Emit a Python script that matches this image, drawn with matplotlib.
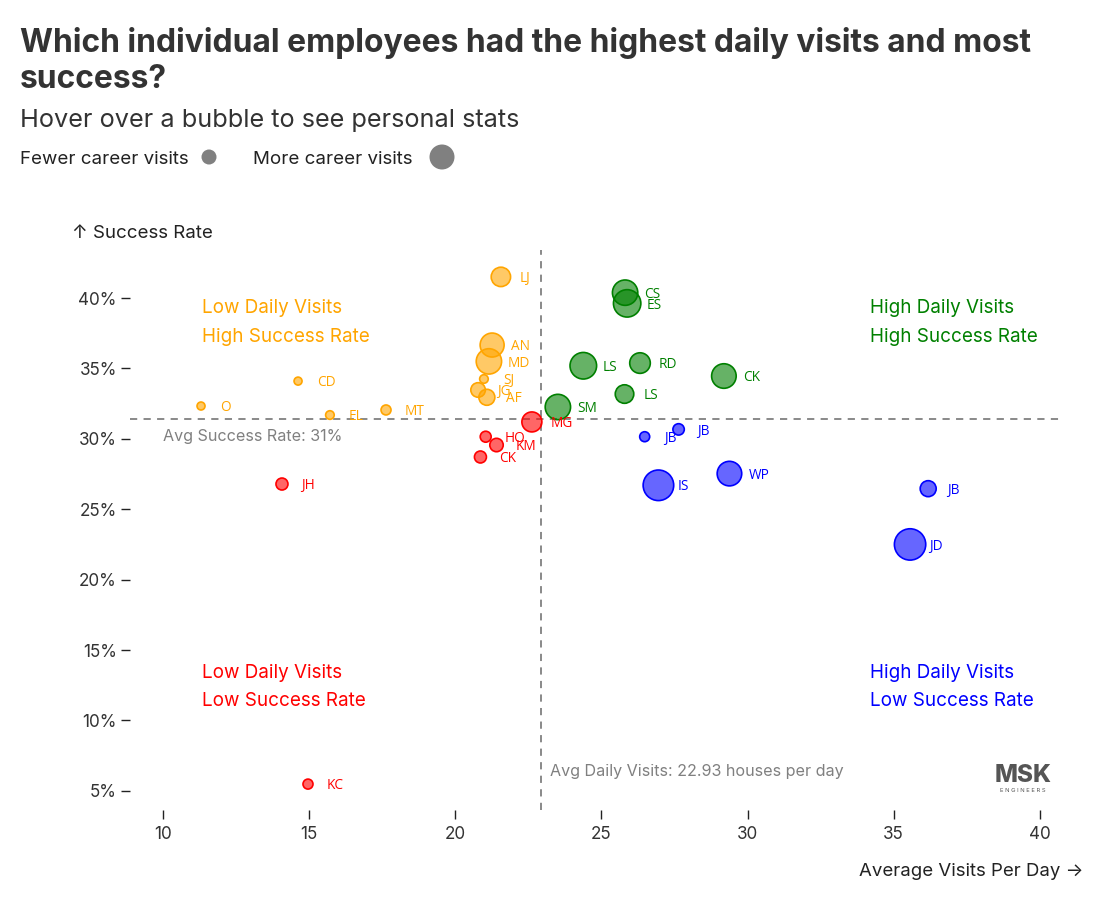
import matplotlib
matplotlib.use("Agg")
import matplotlib.pyplot as plt
from matplotlib.ticker import FuncFormatter

# ---------------- data ----------------
names = ["LJ", "AN", "MD", "SJ", "JG", "AF", "CD", "O", "EL", "MT",
         "MG", "HO", "KM", "CK", "JH", "KC",
         "CS", "ES", "LS", "RD", "CK", "LS", "SM",
         "JB", "JB", "IS", "WP", "JB", "JD"]
visits_per_day = [21.56, 21.26, 21.15, 20.98, 20.78, 21.08, 14.62, 11.30, 15.71, 17.63,
                  22.62, 21.04, 21.41, 20.86, 14.07, 14.96,
                  25.81, 25.88, 24.38, 26.32, 29.19, 25.79, 23.51,
                  26.48, 27.64, 26.95, 29.38, 36.18, 35.56]
success_rate = [41.5, 36.66, 35.5, 34.25, 33.47, 32.95, 34.1, 32.33, 31.69, 32.05,
                31.2, 30.15, 29.56, 28.71, 26.79, 5.48,
                40.38, 39.62, 35.19, 35.38, 34.46, 33.18, 32.26,
                30.15, 30.67, 26.70, 27.53, 26.46, 22.50]
career_visits = [940, 1440, 1610, 185, 530, 640, 160, 160, 185, 250,
                 1000, 300, 450, 360, 360, 250,
                 1610, 1880, 1770, 1060, 1510, 860, 1610,
                 250, 325, 2340, 1510, 640, 2460]

avg_visits = 22.93
avg_success = 31.4

x_ticks = [10, 15, 20, 25, 30, 35, 40]
y_ticks = [5, 10, 15, 20, 25, 30, 35, 40]

quadrant_colors = {"hh": "#008000", "lh": "#FFA500", "ll": "#FF0000", "hl": "#0000FF"}

# ---------------- figure ----------------
W, H, DPI = 1118, 898, 100
fig = plt.figure(figsize=(W / DPI, H / DPI), dpi=DPI)
plt.rcParams['font.family'] = ['Inter', 'DejaVu Sans']

ax = fig.add_axes([130 / W, 1 - 810 / H, 930 / W, 560 / H])
ax.set_xlim(8.87, 40.69)
ax.set_ylim(3.64, 43.41)

for s in ax.spines.values():
    s.set_visible(False)

def quadrant(x, y):
    if x >= avg_visits:
        return "hh" if y >= avg_success else "hl"
    return "lh" if y >= avg_success else "ll"

# reference lines
ax.axvline(avg_visits, color="#808080", lw=1.3, ls=(0, (4, 3.5)), zorder=1)
ax.axhline(avg_success, color="#808080", lw=1.3, ls=(0, (4, 3.5)), zorder=1)

px2pt = 72 / DPI
for n, x, y, c in zip(names, visits_per_day, success_rate, career_visits):
    col = quadrant_colors[quadrant(x, y)]
    ax.scatter([x], [y], s=c * 0.207, facecolor=col, alpha=0.6, edgecolor="none", zorder=3)
    ax.scatter([x], [y], s=c * 0.207, facecolor="none", edgecolor=col, lw=1.2, zorder=3)
    ax.annotate(n, (x, y), xytext=(19 * px2pt, -1.2), textcoords="offset points",
                va="center", ha="left", fontsize=9.8, color=col,
                family=["Open Sans", "DejaVu Sans"], zorder=4)

# ticks
ax.xaxis.set_major_locator(plt.FixedLocator(x_ticks))
ax.yaxis.set_major_locator(plt.FixedLocator(y_ticks))
ax.yaxis.set_major_formatter(FuncFormatter(lambda v, p: f"{v:.0f}%"))
ax.tick_params(axis="both", labelsize=12.3, colors="#222222", length=6.5, width=1)
ax.tick_params(axis="y", pad=3)
ax.tick_params(axis="x", pad=5)
for lbl in ax.get_xticklabels() + ax.get_yticklabels():
    lbl.set_color("#333333")

# quadrant labels
qfs = 13.6
dy = 0.2
ax.text(11.33, 39.5 - dy, "Low Daily Visits", color=quadrant_colors["lh"], fontsize=qfs, va="center")
ax.text(11.33, 37.45 - dy, "High Success Rate", color=quadrant_colors["lh"], fontsize=qfs, va="center")
ax.text(34.19, 39.5 - dy, "High Daily Visits", color=quadrant_colors["hh"], fontsize=qfs, va="center")
ax.text(34.19, 37.45 - dy, "High Success Rate", color=quadrant_colors["hh"], fontsize=qfs, va="center")
ax.text(11.33, 13.58 - dy, "Low Daily Visits", color=quadrant_colors["ll"], fontsize=qfs, va="center")
ax.text(11.33, 11.6 - dy, "Low Success Rate", color=quadrant_colors["ll"], fontsize=qfs, va="center")
ax.text(34.19, 13.58 - dy, "High Daily Visits", color=quadrant_colors["hl"], fontsize=qfs, va="center")
ax.text(34.19, 11.6 - dy, "Low Success Rate", color=quadrant_colors["hl"], fontsize=qfs, va="center")

ax.text(10.0, 30.4 - dy, f"Avg Success Rate: {avg_success:.0f}%", color="#808080", fontsize=11.6, va="center")
ax.text(23.24, 6.55 - dy, f"Avg Daily Visits: {avg_visits:.2f} houses per day", color="#808080",
        fontsize=11.6, va="center")

# figure-level texts
def fy(py):
    return 1 - (py + 3) / H

fig.text(20 / W, fy(40), "Which individual employees had the highest daily visits and most",
         fontsize=22.9, fontweight="bold", color="#333333", va="center")
fig.text(20 / W, fy(76), "success?", fontsize=22.9, fontweight="bold", color="#333333", va="center")
fig.text(20 / W, fy(117), "Hover over a bubble to see personal stats", fontsize=18.2,
         color="#333333", va="center")
fig.text(20 / W, fy(157), "Fewer career visits", fontsize=13.5, color="#222222", va="center")
fig.text(253 / W, fy(157), "More career visits", fontsize=13.5, color="#222222", va="center")
fig.text(72 / W, fy(230), "↑ Success Rate", fontsize=13.5, color="#222222", va="center")
fig.text(1083 / W, fy(868), "Average Visits Per Day →", fontsize=13.4, color="#222222",
         va="center", ha="right")

# legend dots (overlay in pixel coordinates)
ov = fig.add_axes([0, 0, 1, 1], facecolor="none")
ov.set_xlim(0, W)
ov.set_ylim(H, 0)
ov.axis("off")
ov.scatter([209], [157], s=(15 * px2pt) ** 2, color="#808080", edgecolor="none")
ov.scatter([442], [157], s=(25 * px2pt) ** 2, color="#808080", edgecolor="none")

# logo
ov.text(1023, 776, "MSK", fontsize=17.5, fontweight="heavy", color="#555555",
        ha="center", va="center")
ov.text(1023, 790, "E N G I N E E R S", fontsize=4.2, color="#555555", ha="center", va="center")

fig.savefig("out.png", dpi=DPI, facecolor="white")
